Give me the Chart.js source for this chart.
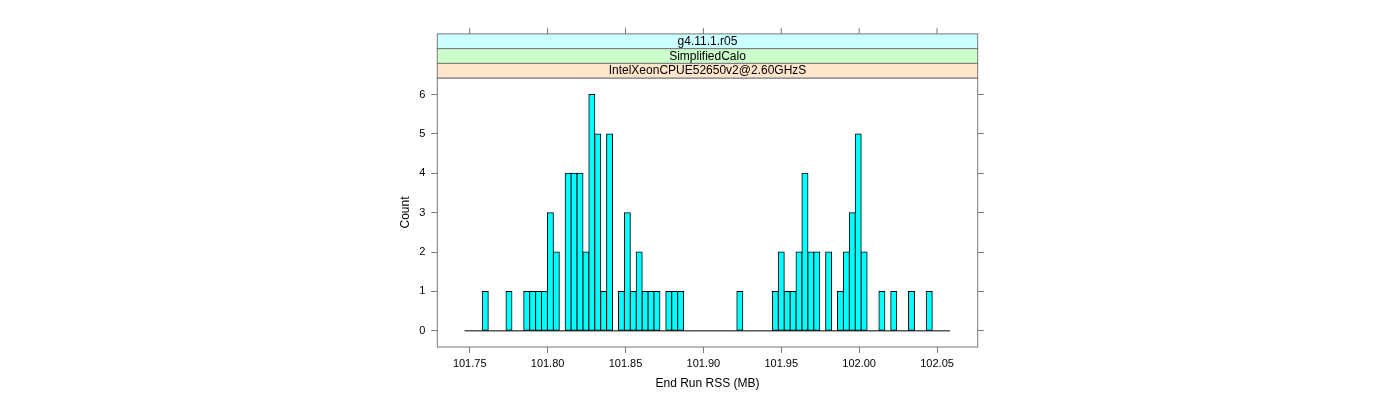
<!DOCTYPE html>
<html><head><meta charset="utf-8">
<script src="https://cdn.jsdelivr.net/npm/chart.js@4"></script>
<style>html,body{margin:0;padding:0;background:#fff}canvas{display:block}</style>
</head><body>
<canvas id="c" width="1400" height="400"></canvas>
<script>
// ---- data ----
const binStart = 101.7467;   // first histogram break (MB)
const binWidth = 0.0038;     // histogram bin width (MB)
const counts = [
  0,0,0,1,0,0,0,1,0,0,
  1,1,1,1,3,2,0,4,4,4,
  2,6,5,1,5,0,1,3,1,2,
  1,1,1,0,1,1,1,0,0,0,
  0,0,0,0,0,0,1,0,0,0,
  0,0,1,2,1,1,2,4,2,2,
  0,2,0,1,2,3,5,2,0,0,
  1,0,1,0,0,1,0,0,1,0,
  0,0
];
const xTicks = [101.75, 101.80, 101.85, 101.90, 101.95, 102.00, 102.05];
const yTicks = [0, 1, 2, 3, 4, 5, 6];
const stripLabels = ['IntelXeonCPUE52650v2@2.60GHzS', 'SimplifiedCalo', 'g4.11.1.r05']; // bottom to top
const stripColors = ['#ffe5cc', '#ccffcc', '#ccffff'];
const xLabel = 'End Run RSS (MB)';
const yLabel = 'Count';

// ---- styling ----
const FONT = "'Liberation Sans', Arial, Helvetica, sans-serif";
const frame = '#777777';
const stripH = 14.7;

const barData = counts.map((c, i) => ({x: binStart + (i + 0.5) * binWidth, y: c}));
const baseData = [{x: binStart, y: 0}, {x: binStart + counts.length * binWidth, y: 0}];

const lattice = {
  id: 'lattice',
  afterDraw(chart) {
    const {ctx, chartArea: a, scales: {x}} = chart;
    ctx.save();
    ctx.lineWidth = 1;
    ctx.strokeStyle = frame;
    ctx.strokeRect(a.left, a.top, a.right - a.left, a.bottom - a.top);
    ctx.font = "12px " + FONT;
    ctx.textAlign = 'center';
    ctx.textBaseline = 'middle';
    for (let i = 0; i < stripLabels.length; i++) {
      const y1 = a.top - (i + 1) * stripH;
      ctx.fillStyle = stripColors[i];
      ctx.fillRect(a.left, y1, a.right - a.left, stripH);
      ctx.strokeStyle = frame;
      ctx.strokeRect(a.left, y1, a.right - a.left, stripH);
      ctx.fillStyle = '#000';
      ctx.fillText(stripLabels[i], (a.left + a.right) / 2, y1 + stripH / 2 + 0.5);
    }
    const top = a.top - stripLabels.length * stripH;
    ctx.strokeStyle = frame;
    ctx.beginPath();
    x.ticks.forEach(t => {
      const px = x.getPixelForValue(t.value);
      ctx.moveTo(px, top - 6);
      ctx.lineTo(px, top);
    });
    ctx.stroke();
    ctx.restore();
  }
};

const tickFont = {family: FONT, size: 11};
const titleFont = {family: FONT, size: 12};
const gridOpts = {display: true, drawOnChartArea: false, drawTicks: true, tickLength: 6, color: frame, offset: false};

new Chart(document.getElementById('c'), {
  type: 'bar',
  data: {
    datasets: [
      {type: 'line', data: baseData, borderColor: '#000', borderWidth: 1, pointRadius: 0, order: 0, yAxisID: 'y'},
      {type: 'bar', data: barData, backgroundColor: '#00ffff', borderColor: '#000', borderWidth: 1,
       borderSkipped: false, inflateAmount: 0.5, barPercentage: 1, categoryPercentage: 1, order: 1, yAxisID: 'y'}
    ]
  },
  options: {
    responsive: false,
    animation: false,
    events: [],
    layout: {padding: {left: 398.3, top: 78, right: 412.3, bottom: 8.8}},
    plugins: {legend: {display: false}, tooltip: {enabled: false}},
    scales: {
      x: {
        type: 'linear', min: 101.7292, max: 102.0761, offset: false,
        afterBuildTicks: s => { s.ticks = xTicks.map(v => ({value: v})); },
        ticks: {font: tickFont, color: '#000', padding: 4.5, maxRotation: 0, autoSkip: false,
                callback: v => Number(v).toFixed(2)},
        grid: gridOpts,
        border: {display: false},
        title: {display: true, text: xLabel, font: titleFont, color: '#000', padding: 0},
        afterFit: s => { s.height = 44.2; }
      },
      y: {
        type: 'linear', position: 'left', min: -0.41, max: 6.42,
        afterBuildTicks: s => { s.ticks = yTicks.map(v => ({value: v})); },
        ticks: {font: tickFont, color: '#000', padding: 6, callback: v => String(v)},
        grid: gridOpts,
        border: {display: false},
        title: {display: true, text: yLabel, font: titleFont, color: '#000', padding: 0},
        afterFit: s => { s.width = 39; }
      },
      y2: {
        type: 'linear', position: 'right', min: -0.41, max: 6.42,
        afterBuildTicks: s => { s.ticks = yTicks.map(v => ({value: v})); },
        ticks: {display: false},
        grid: gridOpts,
        border: {display: false},
        afterFit: s => { s.width = 10; }
      }
    }
  },
  plugins: [lattice]
});
</script>
</body></html>
